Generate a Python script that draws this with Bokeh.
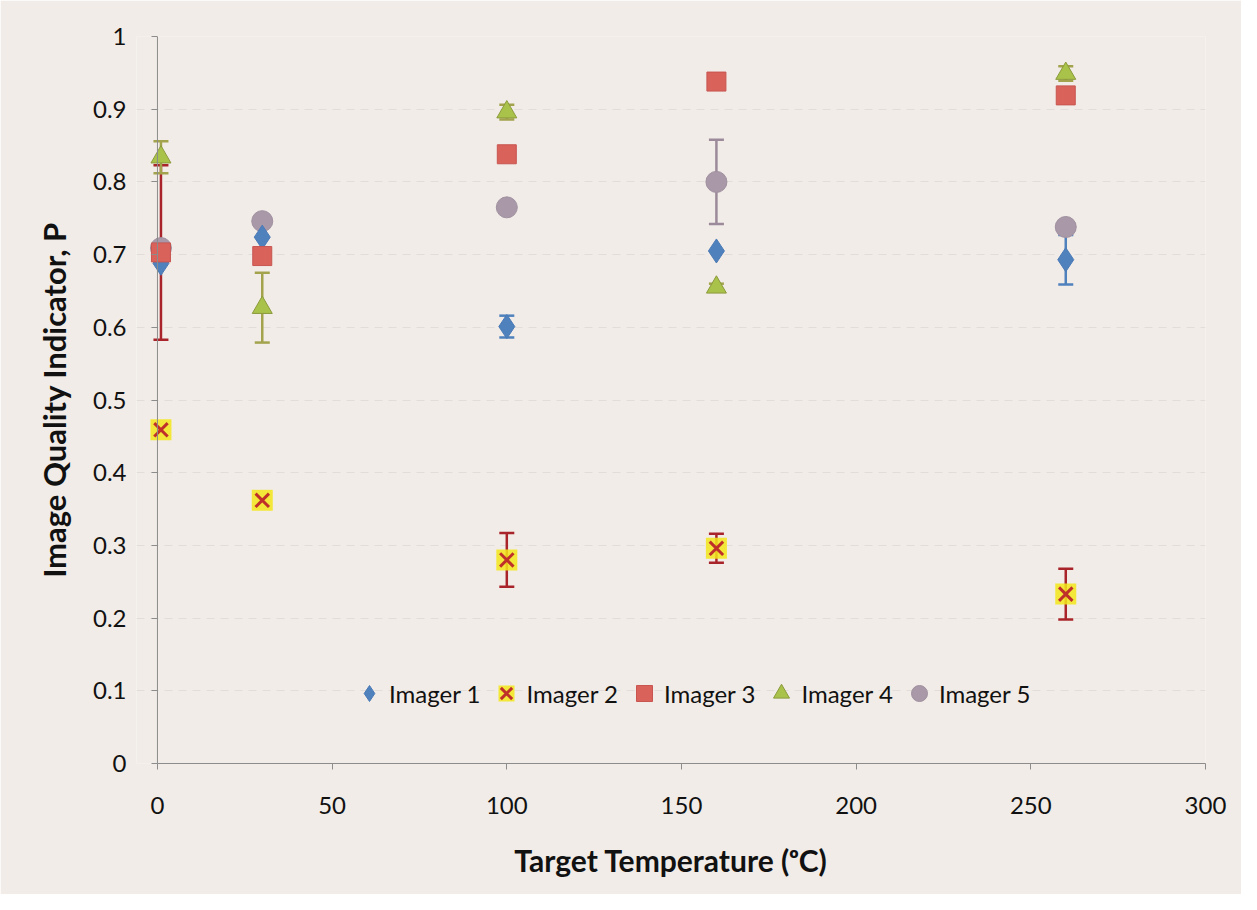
from bokeh.plotting import figure
from bokeh.models import (ColumnDataSource, Whisker, TeeHead, Legend, LegendItem,
                          FixedTicker, Span)
from bokeh.embed import file_html
from bokeh.resources import INLINE

# ---------------- data ----------------
temps = [1, 30, 100, 160, 260]
imager1 = [0.688, 0.724, 0.601, 0.705, 0.693]
err1 = [0.0, 0.0, 0.015, 0.0, 0.034]
imager2 = [0.459, 0.362, 0.280, 0.296, 0.233]
err2 = [0.0, 0.0, 0.037, 0.020, 0.035]
imager3 = [0.703, 0.698, 0.838, 0.938, 0.919]
err3 = [0.120, 0.0, 0.0, 0.0, 0.0]
imager4 = [0.834, 0.627, 0.896, 0.655, 0.949]
err4 = [0.022, 0.048, 0.010, 0.005, 0.010]
imager5 = [0.709, 0.746, 0.765, 0.800, 0.738]
err5 = [0.0, 0.0, 0.0, 0.058, 0.0]
series_names = ["Imager 1", "Imager 2", "Imager 3", "Imager 4", "Imager 5"]
x_ticks = [0, 50, 100, 150, 200, 250, 300]
y_ticks = [0, 0.1, 0.2, 0.3, 0.4, 0.5, 0.6, 0.7, 0.8, 0.9, 1.0]

BG = "#F1ECE7"
FONT = "Lato"
AXIS_GRAY = "#8C8C8C"

# x range starts slightly below 0 so markers at the left edge are not clipped;
# the visible y axis line sits at x = 0
p = figure(width=1241, height=894, x_range=(-6, 300), y_range=(0, 1),
           output_backend="svg", toolbar_location=None,
           min_border_left=136, min_border_right=36, min_border_top=36,
           min_border_bottom=131)
p.background_fill_color = BG
p.border_fill_color = BG
p.outline_line_color = None

# grid
p.xgrid.grid_line_color = None
p.ygrid.ticker = FixedTicker(ticks=y_ticks)
p.ygrid.grid_line_color = "#DCD7D2"
p.ygrid.grid_line_dash = "8 6"
p.ygrid.grid_line_alpha = 0.7

# axes
for ax in (p.xaxis[0], p.yaxis[0]):
    ax.axis_line_color = AXIS_GRAY
    ax.major_tick_line_color = AXIS_GRAY
    ax.major_tick_out = 6
    ax.major_tick_in = 0
    ax.minor_tick_line_color = None
    ax.major_label_text_font = FONT
    ax.major_label_text_font_size = "24px"
    ax.major_label_text_color = "#111111"
    ax.axis_label_text_font = FONT
    ax.axis_label_text_font_style = "bold"
    ax.axis_label_text_color = "#111111"

p.xaxis.bounds = (0, 300)
p.xaxis.ticker = FixedTicker(ticks=x_ticks)
p.xaxis.major_label_standoff = 27
p.xaxis.axis_label = "Target Temperature (\u1d52C)"
p.xaxis.axis_label_text_font_size = "30px"
p.xaxis.axis_label_standoff = 25

yax = p.yaxis[0]
yax.ticker = FixedTicker(ticks=y_ticks)
yax.major_label_overrides = {0: "0", 1: "1"}
yax.axis_line_color = None
yax.major_tick_in = 21
yax.major_tick_out = -15
yax.minor_tick_in = 0
yax.minor_tick_out = -15
yax.major_label_standoff = 10
yax.axis_label = "Image Quality Indicator, P"
yax.axis_label_text_font_size = "31px"
yax.axis_label_standoff = 17

p.add_layout(Span(location=0, dimension="height", line_color=AXIS_GRAY,
                  line_width=1))


def add_whisker(xs, ys, es, color):
    keep = [i for i, e in enumerate(es) if e > 0]
    src = ColumnDataSource(dict(
        x=[xs[i] for i in keep],
        lo=[ys[i] - es[i] for i in keep],
        hi=[ys[i] + es[i] for i in keep]))
    w = Whisker(base="x", lower="lo", upper="hi", source=src, dimension="height",
                line_color=color, line_width=2.5,
                upper_head=TeeHead(size=15, line_color=color, line_width=2.5),
                lower_head=TeeHead(size=15, line_color=color, line_width=2.5),
                level="underlay")
    p.add_layout(w)


add_whisker(temps, imager1, err1, "#4F81BD")
add_whisker(temps, imager2, err2, "#A8242A")
add_whisker(temps, imager3, err3, "#A8242A")
add_whisker(temps, imager4, err4, "#A3A34E")
add_whisker(temps, imager5, err5, "#9C8A9A")

src = ColumnDataSource(dict(x=temps, y1=imager1, y2=imager2, y3=imager3,
                            y4=imager4, y5=imager5))

r5 = p.scatter("x", "y5", source=src, marker="circle", size=21,
               fill_color="#A898A8", line_color="#A090A0")
r1 = p.scatter("x", "y1", source=src, marker="diamond", size=24,
               fill_color="#4F81BD", line_color="#4A7AB5")
r3 = p.scatter("x", "y3", source=src, marker="square", size=19,
               fill_color="#D9625B", line_color="#C85550")
r4 = p.scatter("x", "y4", source=src, marker="triangle", size=20,
               fill_color="#A9C24A", line_color="#8C9A3C")
r2g = p.scatter("x", "y2", source=src, marker="square", size=21,
                fill_color="#F3E81A", line_color=None, fill_alpha=0.85)
r2 = p.scatter("x", "y2", source=src, marker="x", size=19,
               line_color="#C0302A", line_width=3)

legend = Legend(items=[
    LegendItem(label=series_names[0], renderers=[r1]),
    LegendItem(label=series_names[1], renderers=[r2g, r2]),
    LegendItem(label=series_names[2], renderers=[r3]),
    LegendItem(label=series_names[3], renderers=[r4]),
    LegendItem(label=series_names[4], renderers=[r5]),
], orientation="horizontal", location=(213, 47))
legend.background_fill_alpha = 0
legend.border_line_color = None
legend.label_text_font = FONT
legend.label_text_font_size = "24px"
legend.label_text_color = "#111111"
legend.glyph_width = 40
legend.glyph_height = 46
legend.label_standoff = 0
legend.spacing = 6
legend.padding = 0
p.add_layout(legend, "center")

open("out.html", "w").write(file_html(p, INLINE))
